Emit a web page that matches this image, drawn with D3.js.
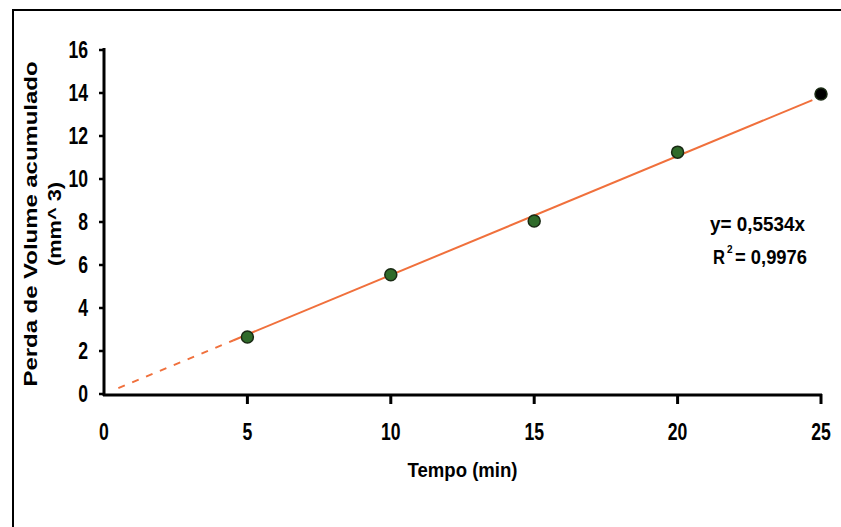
<!DOCTYPE html>
<html lang="pt">
<head>
    <meta charset="UTF-8">
    <title>Perda de Volume acumulado</title>
    <script src="https://d3js.org/d3.v7.min.js"></script>
    <style>
        body{
            margin:0;
            background:#fff;
        }
        svg text{
            font-family:'Liberation Sans',Arial,sans-serif;
            font-weight:bold;
            fill:#000;
        }
    </style>
</head>
<body>
    <svg id="chart" width="841" height="527"></svg>
    <script>
        // valores
        const tempo=[5,10,15,20,25];
        const volume=[2.65,5.55,8.05,11.25,13.95];
        const slope=0.5534;
        const r2='0,9976';
        const xTicks=[0,5,10,15,20,25];
        const yTicks=[0,2,4,6,8,10,12,14,16];
        const dashFrom=0.5, solidFrom=4.5;

        const svg=d3.select('#chart');
        const width=841, height=527;

        const x=d3.scaleLinear().domain([0,25]).range([104,821]);
        const y=d3.scaleLinear().domain([0,16]).range([394,50]);

        // texto condensado (a fonte do original é estreita)
        const narrow=(sel,len)=>sel.attr('textLength',len).attr('lengthAdjust','spacingAndGlyphs');

        // moldura externa (só esquerda e topo visíveis)
        svg.append('path')
            .attr('d',`M13,${height} L13,10 L${width},10`)
            .attr('fill','none')
            .attr('stroke','#000')
            .attr('stroke-width',2);

        // linha de tendência
        const line=d3.line().x(d=>x(d)).y(d=>y(d*slope));
        svg.append('path')
            .attr('d',line([dashFrom,solidFrom]))
            .attr('fill','none')
            .attr('stroke','#f0703c')
            .attr('stroke-width',2)
            .attr('stroke-dasharray','7,8');
        svg.append('path')
            .attr('d',line([solidFrom,24.7]))
            .attr('fill','none')
            .attr('stroke','#f0703c')
            .attr('stroke-width',2);

        // eixos
        const axisColor='#000';
        svg.append('line')
            .attr('x1',x(0)).attr('x2',x(0))
            .attr('y1',y(16)-2).attr('y2',y(0)+2)
            .attr('stroke',axisColor).attr('stroke-width',3);
        svg.append('line')
            .attr('x1',x(0)-1).attr('x2',x(25)+1)
            .attr('y1',y(0)+1).attr('y2',y(0)+1)
            .attr('stroke',axisColor).attr('stroke-width',3);

        svg.selectAll('.ytick')
            .data(yTicks)
            .join('line')
            .attr('class','ytick')
            .attr('x1',x(0)-5).attr('x2',x(0))
            .attr('y1',d=>y(d)).attr('y2',d=>y(d))
            .attr('stroke',axisColor).attr('stroke-width',2.5);
        svg.selectAll('.xtick')
            .data(xTicks.filter(d=>d>0))
            .join('line')
            .attr('class','xtick')
            .attr('x1',d=>x(d)).attr('x2',d=>x(d))
            .attr('y1',y(0)).attr('y2',y(0)+10)
            .attr('stroke',axisColor).attr('stroke-width',3);

        svg.selectAll('.ylab')
            .data(yTicks)
            .join('text')
            .attr('class','ylab')
            .attr('x',x(0)-16)
            .attr('y',d=>y(d))
            .attr('dy','0.36em')
            .attr('text-anchor','end')
            .attr('font-size',23)
            .text(d=>d)
            .call(s=>narrow(s,d=>String(d).length*9.8));
        svg.selectAll('.xlab')
            .data(xTicks)
            .join('text')
            .attr('class','xlab')
            .attr('x',d=>x(d))
            .attr('y',432)
            .attr('dy','0.36em')
            .attr('text-anchor','middle')
            .attr('font-size',23)
            .text(d=>d)
            .call(s=>narrow(s,d=>String(d).length*9.8));

        // títulos
        svg.append('text')
            .attr('x',(x(0)+x(25))/2)
            .attr('y',470)
            .attr('dy','0.36em')
            .attr('text-anchor','middle')
            .attr('font-size',20)
            .text('Tempo (min)')
            .call(s=>narrow(s,110));

        svg.append('text')
            .attr('transform','translate(30,224) rotate(-90)')
            .attr('dy','0.36em')
            .attr('text-anchor','middle')
            .attr('font-size',19)
            .text('Perda de Volume acumulado')
            .call(s=>narrow(s,325));
        svg.append('text')
            .attr('transform','translate(54,224) rotate(-90)')
            .attr('dy','0.36em')
            .attr('text-anchor','middle')
            .attr('font-size',19)
            .text('(mm^ 3)')
            .call(s=>narrow(s,84));

        // equação
        svg.append('text')
            .attr('x',710).attr('y',223)
            .attr('dy','0.36em')
            .attr('font-size',21)
            .text('y= 0,'+String(slope).split('.')[1]+'x')
            .call(s=>narrow(s,95));
        svg.append('text')
            .attr('x',713).attr('y',256)
            .attr('dy','0.36em')
            .attr('font-size',21)
            .text('R')
            .call(s=>narrow(s,12));
        svg.append('text')
            .attr('x',727).attr('y',253)
            .attr('font-size',10)
            .text('2');
        svg.append('text')
            .attr('x',735).attr('y',256)
            .attr('dy','0.36em')
            .attr('font-size',21)
            .text('= '+r2)
            .call(s=>narrow(s,72));

        // pontos
        svg.selectAll('.pt')
            .data(tempo.map((t,i)=>({t,v:volume[i]})))
            .join('circle')
            .attr('class','pt')
            .attr('cx',d=>x(d.t))
            .attr('cy',d=>y(d.v))
            .attr('r',6)
            .attr('fill',(d,i)=>i===tempo.length-1?'#000':'#2f6b2a')
            .attr('stroke','#1a2a14')
            .attr('stroke-width',1.5);
    </script>
</body>
</html>
